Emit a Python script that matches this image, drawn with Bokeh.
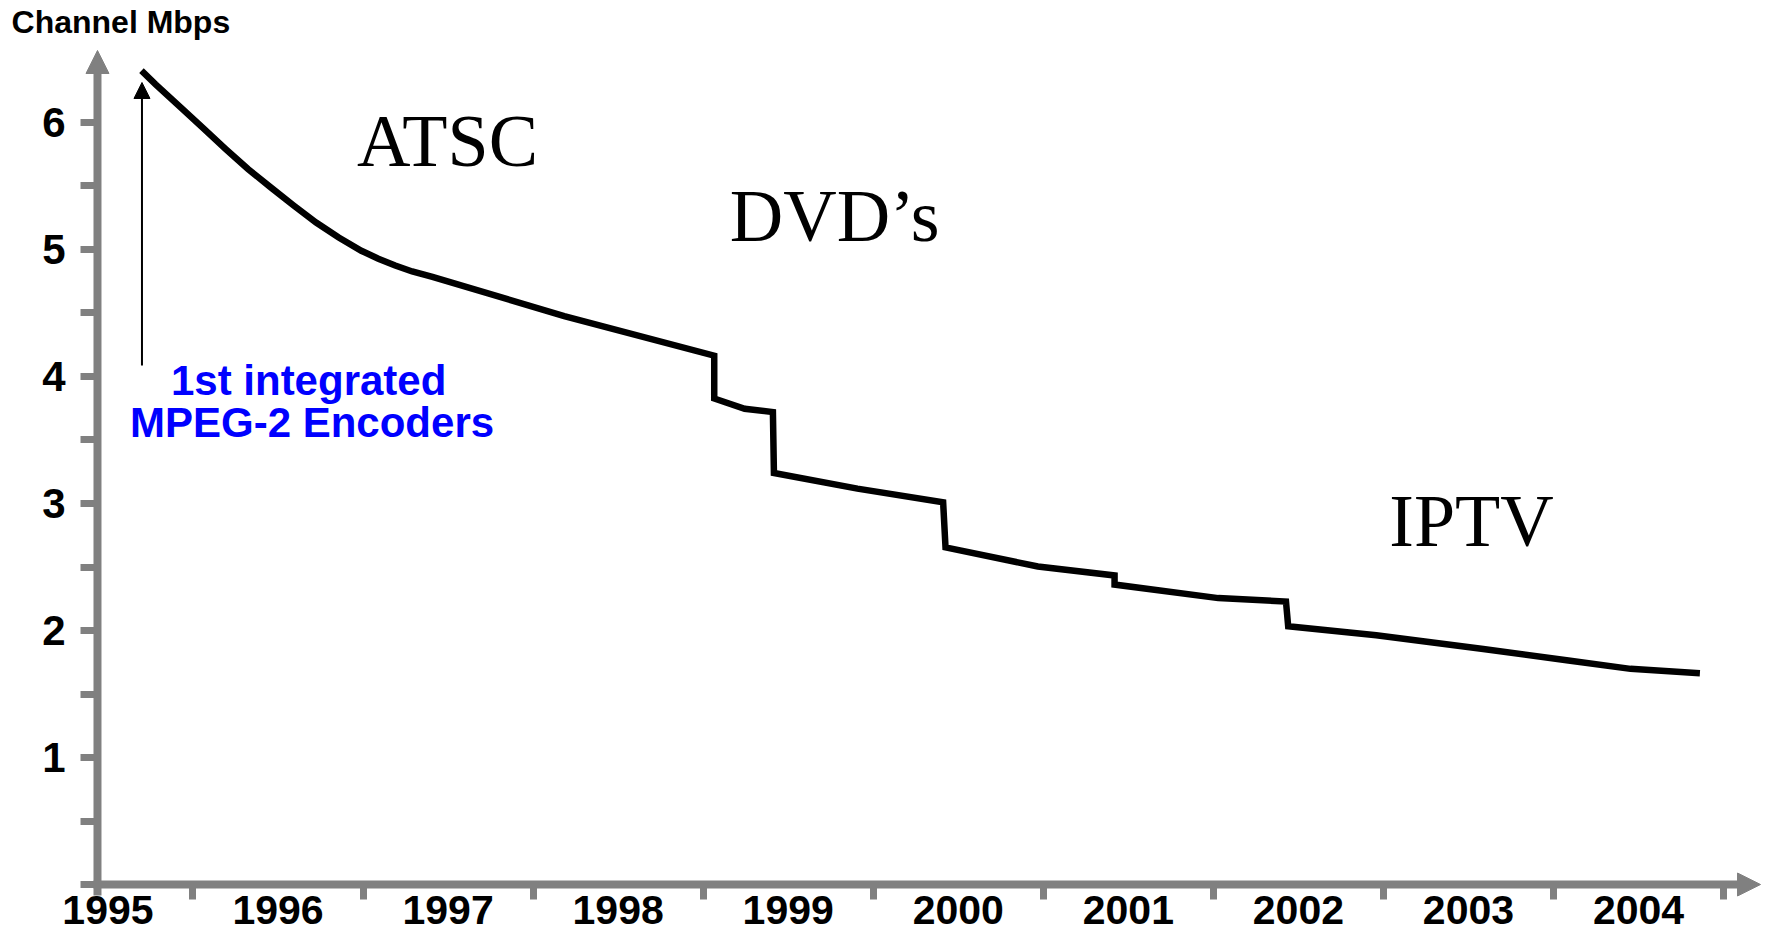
from bokeh.plotting import figure
from bokeh.models import FixedTicker, Arrow, NormalHead, Label, LinearAxis, Range1d
from bokeh.embed import file_html
from bokeh.resources import INLINE
from bokeh.core.properties import value

# ---- data ----
curve_year = [1995.697, 1995.780, 1995.929, 1996.063, 1996.194, 1996.325, 1996.459,
              1996.590, 1996.724, 1996.857, 1996.990, 1997.090, 1997.189, 1997.289,
              1997.408, 1998.183, 1999.065, 1999.065, 1999.244, 1999.410, 1999.416,
              1999.907, 2000.411, 2000.425, 2000.968, 2001.419, 2001.419, 2002.029,
              2002.427, 2002.440, 2002.958, 2003.587, 2004.088, 2004.453, 2004.861]
curve_mbps = [6.409, 6.301, 6.117, 5.952, 5.789, 5.632, 5.487,
              5.348, 5.212, 5.094, 4.990, 4.927, 4.874, 4.827,
              4.785, 4.475, 4.164, 3.827, 3.746, 3.720, 3.240,
              3.117, 3.009, 2.654, 2.504, 2.433, 2.362, 2.255,
              2.228, 2.033, 1.962, 1.855, 1.764, 1.698, 1.664]

year_labels = ["1995", "1996", "1997", "1998", "1999", "2000", "2001", "2002", "2003", "2004"]
year_centers = [1995.5, 1996.5, 1997.5, 1998.5, 1999.5, 2000.5, 2001.5, 2002.5, 2003.5, 2004.5]
year_bounds = [1996, 1997, 1998, 1999, 2000, 2001, 2002, 2003, 2004, 2005]
mbps_ticks = [1, 2, 3, 4, 5, 6]
mbps_minor = [0, 0.5, 1.5, 2.5, 3.5, 4.5, 5.5]

era_names = ["ATSC", "DVD\u2019s", "IPTV"]
era_year = [1997.497, 1999.773, 2003.518]
era_mbps = [5.858, 5.260, 2.866]

note_lines = ["1st integrated", "MPEG-2 Encoders"]
note_year = [1996.68, 1996.70]
note_mbps = [3.965, 3.637]

GRAY = "#808080"
X0 = 1995.4384  # where the vertical axis sits

p = figure(width=1768, height=937, output_backend="svg", toolbar_location=None,
           x_range=Range1d(1994.8681, 2005.2643), y_range=Range1d(-0.4173, 6.9606),
           x_axis_location=None, y_axis_location=None, min_border=0)
p.outline_line_color = None
p.background_fill_color = "white"
p.border_fill_color = "white"
p.grid.visible = False

# x axis
xaxis = LinearAxis(fixed_location=0,
                   ticker=FixedTicker(ticks=year_centers, minor_ticks=year_bounds))
xaxis.major_label_overrides = {c: l for c, l in zip(year_centers, year_labels)}
xaxis.axis_line_color = None
xaxis.major_tick_line_color = None
xaxis.major_tick_out = 0
xaxis.major_tick_in = 0
xaxis.minor_tick_line_color = GRAY
xaxis.minor_tick_line_width = 7
xaxis.minor_tick_out = 15
xaxis.minor_tick_in = 0
xaxis.major_label_standoff = -4
xaxis.major_label_text_font = "Liberation Sans"
xaxis.major_label_text_font_style = "bold"
xaxis.major_label_text_font_size = "41px"
xaxis.major_label_text_color = "black"
p.add_layout(xaxis, "below")

# y axis
yaxis = LinearAxis(fixed_location=X0,
                   ticker=FixedTicker(ticks=mbps_ticks, minor_ticks=mbps_minor))
yaxis.axis_line_color = None
yaxis.major_tick_line_color = GRAY
yaxis.major_tick_line_width = 7
yaxis.major_tick_out = 17
yaxis.major_tick_in = 0
yaxis.minor_tick_line_color = GRAY
yaxis.minor_tick_line_width = 7
yaxis.minor_tick_out = 17
yaxis.minor_tick_in = 0
yaxis.major_label_standoff = 15
yaxis.major_label_text_font = "Liberation Sans"
yaxis.major_label_text_font_style = "bold"
yaxis.major_label_text_font_size = "42px"
yaxis.major_label_text_color = "black"
p.add_layout(yaxis, "left")

# axis lines with arrow heads
p.add_layout(Arrow(x_start=X0, y_start=-0.0866, x_end=X0, y_end=6.567,
                   line_width=8, line_color=GRAY,
                   end=NormalHead(size=23, fill_color=GRAY, line_color=GRAY)))
p.add_layout(Arrow(x_start=1995.4149, y_start=0, x_end=2005.2174, y_end=0,
                   line_width=8, line_color=GRAY,
                   end=NormalHead(size=23, fill_color=GRAY, line_color=GRAY)))

# data curve
p.line(curve_year, curve_mbps, line_width=6.5, line_color="black", line_join="miter")

# annotation arrow
p.add_layout(Arrow(x_start=1995.700, y_start=4.087, x_end=1995.700, y_end=6.315,
                   line_width=2, line_color="black",
                   end=NormalHead(size=16, fill_color="black", line_color="black")))

p.text(x=note_year, y=note_mbps, text=note_lines, text_font=value("Liberation Sans"),
       text_font_style="bold", text_font_size=value("42px"), text_color="#0000FF",
       text_align="center", text_baseline="middle")

p.text(x=era_year, y=era_mbps, text=era_names, text_font=value("Liberation Serif"),
       text_font_size=value("74px"), text_color="black",
       text_align="center", text_baseline="middle")

p.add_layout(Label(x=1994.933, y=6.790, text="Channel Mbps", text_font="Liberation Sans",
                   text_font_style="bold", text_font_size="32px", text_color="black",
                   text_baseline="middle"))

open("out.html", "w").write(file_html(p, INLINE))
